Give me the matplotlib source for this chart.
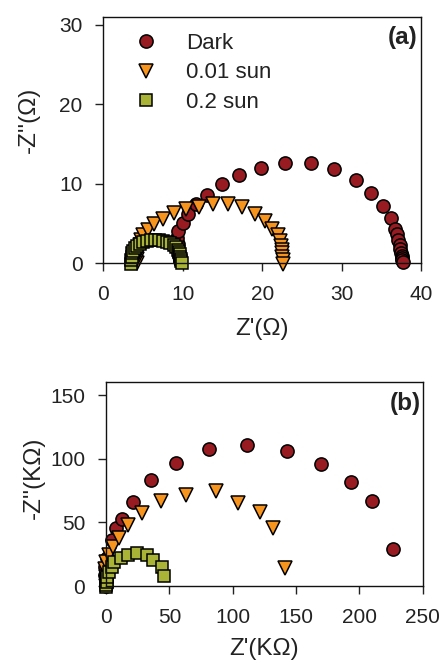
import matplotlib
matplotlib.use("Agg")
import matplotlib.pyplot as plt

plt.rcParams['font.family'] = ['Liberation Sans', 'DejaVu Sans']

# ---------------- data: panel (a), ohm ----------------
dark_a_x = [9.6, 9.5, 9.4, 9.35, 9.3, 9.4, 10.0, 10.7, 11.7, 13.1, 14.9, 17.1, 19.85, 22.9,
            26.1, 29.1, 31.8, 33.7, 35.2, 36.2, 36.7, 36.95, 37.15, 37.3, 37.4, 37.5, 37.55,
            37.6, 37.65, 37.7]
dark_a_y = [0.3, 0.9, 1.6, 2.4, 3.2, 4.0, 5.0, 6.2, 7.4, 8.6, 10.0, 11.1, 12.0, 12.6,
            12.6, 11.8, 10.5, 8.8, 7.2, 5.7, 4.3, 3.6, 2.9, 2.3, 1.8, 1.3, 0.9,
            0.6, 0.35, 0.1]

sun001_a_x = [4.3, 4.3, 4.35, 4.45, 4.6, 4.8, 5.0, 5.6, 6.4, 7.5, 8.9, 10.4, 12.0, 13.8,
              15.7, 17.5, 19.1, 20.3, 21.3, 21.95, 22.2, 22.35, 22.45, 22.5, 22.55, 22.6, 22.6]
sun001_a_y = [0.0, 0.5, 1.1, 1.7, 2.3, 2.9, 3.5, 4.1, 4.9, 5.6, 6.3, 6.75, 7.1, 7.4,
              7.4, 7.1, 6.2, 5.3, 4.3, 3.5, 2.8, 2.2, 1.7, 1.2, 0.8, 0.4, -0.1]

sun02_a_x = [3.5, 3.5, 3.55, 3.65, 3.8, 4.0, 4.3, 4.65, 5.05, 5.5, 6.0, 6.5, 7.0, 7.5,
             8.0, 8.45, 8.85, 9.15, 9.4, 9.55, 9.65, 9.7, 9.75, 9.8, 9.9]
sun02_a_y = [-0.1, 0.35, 0.8, 1.2, 1.55, 1.9, 2.2, 2.45, 2.65, 2.8, 2.85, 2.85, 2.85, 2.8,
             2.7, 2.5, 2.25, 2.0, 1.7, 1.4, 1.1, 0.8, 0.5, 0.25, 0.0]

# ---------------- data: panel (b), kilo-ohm ----------------
dark_b_x = [0.0, 0.0, -0.5, -1.0, 0.5, 4.5, 7.9, 12.4, 21.1, 35.3, 55.0, 81.6, 111.6,
            143.2, 169.5, 193.2, 209.7, 226.3]
dark_b_y = [0.0, 4.0, 9.0, 15.0, 22.0, 36.5, 45.9, 52.4, 66.0, 83.5, 96.5, 107.7, 111.1,
            106.4, 95.5, 81.7, 66.5, 28.7]

sun001_b_x = [0.0, 0.1, 0.2, -0.5, 0.3, 2.4, 5.8, 10.3, 17.6, 28.7, 43.4, 63.2, 86.8,
              104.5, 121.6, 132.1, 141.3]
sun001_b_y = [0.0, 3.0, 7.0, 13.0, 19.0, 24.3, 30.5, 38.0, 47.7, 57.4, 66.8, 71.2, 74.6,
              65.2, 58.2, 45.9, 14.3]

sun02_b_x = [0.0, 0.0, 0.5, 1.1, 2.6, 4.5, 6.6, 11.6, 17.6, 24.7, 32.1, 37.4, 43.9, 46.1]
sun02_b_y = [-1.0, 0.8, 3.4, 6.8, 10.7, 15.1, 19.0, 22.4, 24.3, 25.6, 24.3, 20.3, 15.1, 7.8]

labels = ["Dark", "0.01 sun", "0.2 sun"]
colors = ["#981B22", "#F7941E", "#A9B436"]
markers = ["o", "v", "s"]
msizes = [9.5, 9.5, 8.0]

fig = plt.figure(figsize=(4.43, 6.63), dpi=100)
ax_a = fig.add_axes([0.2332, 0.6033, 0.7171, 0.3711])
ax_b = fig.add_axes([0.2393, 0.1161, 0.7149, 0.3073])

tick_fs = 15
label_fs = 17.5
text_c = "#222222"


def style(ax):
    for s in ax.spines.values():
        s.set_linewidth(1.0)
        s.set_color("#111111")
    ax.tick_params(direction="out", length=6, width=1.0, labelsize=tick_fs,
                   colors=text_c, top=False, right=False)
    ax.tick_params(axis="x", pad=10)
    ax.tick_params(axis="y", pad=9)


series_a = [(dark_a_x, dark_a_y), (sun001_a_x, sun001_a_y), (sun02_a_x, sun02_a_y)]
series_b = [(dark_b_x, dark_b_y), (sun001_b_x, sun001_b_y), (sun02_b_x, sun02_b_y)]

for (x, y), lab, c, m, ms in zip(series_a, labels, colors, markers, msizes):
    ax_a.plot(x, y, linestyle="none", marker=m, markersize=ms, markerfacecolor=c,
              markeredgecolor="black", markeredgewidth=1.1, label=lab, clip_on=False)
for (x, y), lab, c, m, ms in zip(series_b, labels, colors, markers, msizes):
    ax_b.plot(x, y, linestyle="none", marker=m, markersize=ms, markerfacecolor=c,
              markeredgecolor="black", markeredgewidth=1.1, label=lab, clip_on=False)

# panel (a)
style(ax_a)
ax_a.set_xlim(0, 40)
ax_a.set_ylim(0, 31)
ax_a.set_xticks([0, 10, 20, 30, 40])
ax_a.set_yticks([0, 10, 20, 30])
ax_a.set_xlabel("Z'(\u03A9)", fontsize=label_fs, color=text_c)
ax_a.set_ylabel("-Z''(\u03A9)", fontsize=label_fs, color=text_c)
ax_a.xaxis.set_label_coords(0.5, -0.2236)
ax_a.yaxis.set_label_coords(-0.20, 0.58)
ax_a.text(0.99, 0.915, "(a)", transform=ax_a.transAxes, ha="right", va="center",
          fontsize=17.5, fontweight="bold", color=text_c)
leg = ax_a.legend(loc="upper left", bbox_to_anchor=(0.10, 0.935), frameon=False,
                  fontsize=16, numpoints=1, handlelength=1.0, handletextpad=1.3,
                  labelspacing=0.38, borderpad=0, borderaxespad=0)
for t in leg.get_texts():
    t.set_color(text_c)

# panel (b)
style(ax_b)
ax_b.set_xlim(0, 250)
ax_b.set_ylim(0, 160)
ax_b.set_xticks([0, 50, 100, 150, 200, 250])
ax_b.set_yticks([0, 50, 100, 150])
ax_b.set_xlabel("Z'(K\u03A9)", fontsize=label_fs, color=text_c)
ax_b.set_ylabel("-Z''(K\u03A9)", fontsize=label_fs, color=text_c)
ax_b.xaxis.set_label_coords(0.5, -0.255)
ax_b.yaxis.set_label_coords(-0.193, 0.53)
ax_b.text(0.994, 0.897, "(b)", transform=ax_b.transAxes, ha="right", va="center",
          fontsize=17.5, fontweight="bold", color=text_c)

fig.savefig("out.png", dpi=100)
